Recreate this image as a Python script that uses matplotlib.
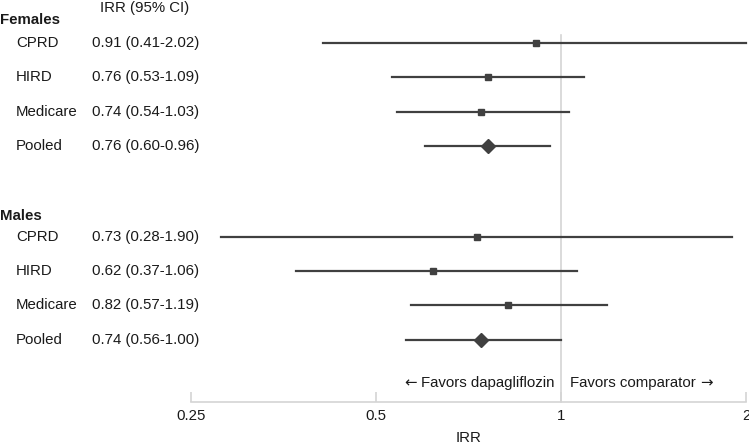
import numpy as np
import matplotlib
matplotlib.use("Agg")
import matplotlib.pyplot as plt
from matplotlib.transforms import blended_transform_factory, offset_copy

plt.rcParams['font.family'] = ['Liberation Sans', 'DejaVu Sans']

# data
groups = ["Females", "Males"]
sources = ["CPRD", "HIRD", "Medicare", "Pooled"]
female_irr = [0.91, 0.76, 0.74, 0.76]
female_lo = [0.41, 0.53, 0.54, 0.60]
female_hi = [2.02, 1.09, 1.03, 0.96]
male_irr = [0.73, 0.62, 0.82, 0.74]
male_lo = [0.28, 0.37, 0.57, 0.56]
male_hi = [1.90, 1.06, 1.19, 1.00]
xticks = [0.25, 0.5, 1, 2]
xticklabels = ["0.25", "0.5", "1", "2"]

dark = "#404040"
txt = "#1a1a1a"
grid = "#d4d4d4"
fs = 10.8

fig = plt.figure(figsize=(7.49, 4.46), dpi=100)
ax = fig.add_axes([191 / 749, 1 - 402 / 446, 555 / 749, 402 / 446])
ax.set_xscale("log")
ax.set_xlim(0.25, 2)
ax.set_ylim(11.47, -0.254)

row_sets = [[1, 2, 3, 4], [6.65, 7.65, 8.65, 9.65]]
header_y = [0.33, 6.04]
series = [(female_irr, female_lo, female_hi), (male_irr, male_lo, male_hi)]

tr = blended_transform_factory(fig.transFigure, ax.transData)
ax.text(100 / 749, -0.02, "IRR (95% CI)", transform=tr, fontsize=fs, color=txt,
        va="center", ha="left")

for g, rows, hy, (irr, lo, hi) in zip(groups, row_sets, header_y, series):
    ax.text(0.0, hy, g, transform=tr, fontsize=fs, fontweight="bold", color=txt,
            va="center", ha="left")
    for y, name, e, l, h in zip(rows, sources, irr, lo, hi):
        ax.plot([l, min(h, 2)], [y, y], color=dark, lw=1.6, clip_on=False, zorder=3)
        if name == "Pooled":
            ax.plot(e, y, marker="D", ms=7, color=dark, zorder=4)
        else:
            ax.plot(e, y, marker="s", ms=5, color=dark, zorder=4)
        ax.text(16 / 749, y, name, transform=tr, fontsize=fs, color=txt,
                va="center", ha="left")
        ax.text(92 / 749, y, "%.2f (%.2f-%.2f)" % (e, l, h), transform=tr,
                fontsize=fs, color=txt, va="center", ha="left")

# reference line at 1
ax.plot([1, 1], [0.77, 11.47], color=grid, lw=1.2, zorder=1, clip_on=False)

# favors labels, arrows in DejaVu (wider glyph)
t_left = ax.text(0.975, 10.91, "Favors dapagliflozin", fontsize=fs, color=txt,
                 ha="right", va="center")
t_right = ax.text(1.035, 10.91, "Favors comparator", fontsize=fs, color=txt,
                  ha="left", va="center")
fig.canvas.draw()
r = fig.canvas.get_renderer()
wl = t_left.get_window_extent(r).width * 72 / fig.dpi
wr = t_right.get_window_extent(r).width * 72 / fig.dpi
ax.text(0.975, 10.91, "\u2190", fontsize=fs, color=txt, ha="right", va="center",
        family=["DejaVu Sans"],
        transform=offset_copy(ax.transData, fig=fig, x=-wl - 3, y=0, units="points"))
ax.text(1.035, 10.91, "\u2192", fontsize=fs, color=txt, ha="left", va="center",
        family=["DejaVu Sans"],
        transform=offset_copy(ax.transData, fig=fig, x=wr + 3, y=0, units="points"))

for s in ["top", "right", "left"]:
    ax.spines[s].set_visible(False)
ax.spines["bottom"].set_color(grid)
ax.spines["bottom"].set_linewidth(1.2)
ax.set_yticks([])
ax.set_xticks(xticks)
ax.set_xticklabels(xticklabels)
ax.xaxis.set_minor_locator(matplotlib.ticker.NullLocator())
ax.tick_params(axis="x", direction="in", length=7, width=1.2, color=grid,
               labelsize=fs, labelcolor=txt, pad=5)
ax.set_xlabel("IRR", fontsize=fs, color=txt, labelpad=6)

fig.savefig("out.png", dpi=100)
